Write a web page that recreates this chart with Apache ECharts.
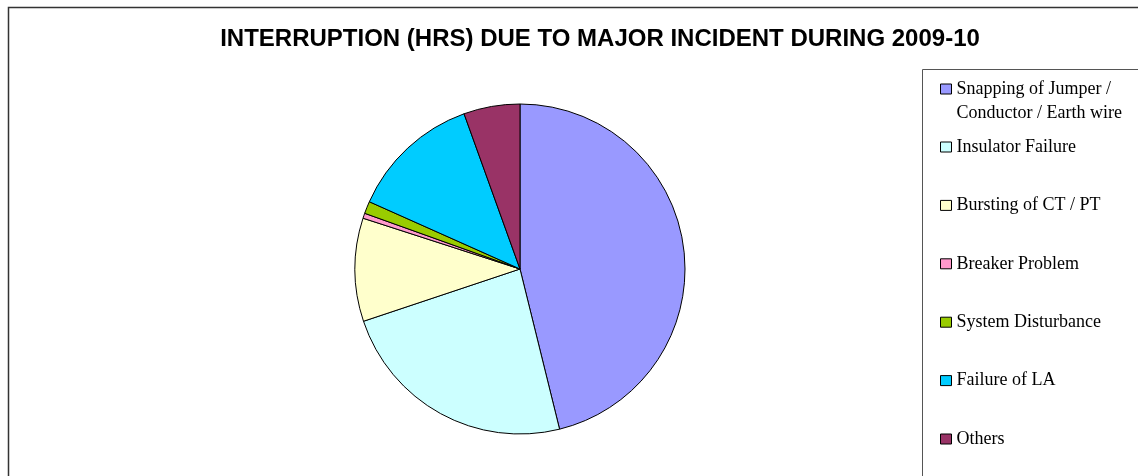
<!DOCTYPE html>
<html>
<head>
<meta charset="utf-8">
<script src="https://cdn.jsdelivr.net/npm/echarts@6/dist/echarts.min.js"></script>
<style>
html,body{margin:0;padding:0;background:#fff;}
#c{width:1138px;height:476px;}
</style>
</head>
<body>
<div id="c"></div>
<script>
var titleText = 'INTERRUPTION (HRS) DUE TO MAJOR INCIDENT DURING 2009-10';
var categories = ['Snapping of Jumper / Conductor / Earth wire', 'Insulator Failure', 'Bursting of CT / PT', 'Breaker Problem', 'System Disturbance', 'Failure of LA', 'Others'];
var firstLegendLines = ['Snapping of Jumper /', 'Conductor / Earth wire'];
var values = [46.1, 23.7, 10.1, 0.5, 1.2, 12.8, 5.5];
var colors = ['#9999FF', '#CCFFFF', '#FFFFCC', '#FF99CC', '#99CC00', '#00CCFF', '#993366'];

var chart = echarts.init(document.getElementById('c'), null, {renderer: 'canvas'});
var data = categories.map(function (n, i) {
  return {name: n, value: values[i], itemStyle: {color: colors[i]}};
});
var legendCommon = {
  orient: 'vertical',
  left: 940,
  padding: 0,
  icon: 'rect',
  itemWidth: 11,
  itemHeight: 10,
  selectedMode: false,
  itemStyle: {borderColor: '#000', borderWidth: 1},
  textStyle: {fontFamily: '"Liberation Serif", "Times New Roman", serif', fontSize: 18, color: '#000', lineHeight: 24}
};
var option = {
  animation: false,
  backgroundColor: '#fff',
  title: {
    text: titleText,
    left: 600,
    textAlign: 'center',
    top: 27,
    padding: 0,
    textStyle: {fontFamily: '"Liberation Sans", Arial, sans-serif', fontWeight: 'bold', fontSize: 24, color: '#000'}
  },
  graphic: [
    {type: 'polyline', shape: {points: [[8.5, 480], [8.5, 7.5], [1140, 7.5]]}, style: {stroke: '#333', lineWidth: 1.5, fill: null}},
    {type: 'rect', shape: {x: 922.5, y: 69.5, width: 300, height: 500}, style: {stroke: '#555', lineWidth: 1, fill: null}, z: -1}
  ],
  legend: [
    Object.assign({}, legendCommon, {
      top: 53,
      data: [categories[0]],
      formatter: function () { return '\n' + firstLegendLines.join('\n'); }
    }),
    Object.assign({}, legendCommon, {
      top: 137,
      itemGap: 38.4,
      data: categories.slice(1),
      textStyle: Object.assign({}, legendCommon.textStyle, {lineHeight: 20})
    })
  ],
  series: [{
    type: 'pie',
    center: [520, 269],
    radius: 165,
    startAngle: 90,
    clockwise: true,
    label: {show: false},
    labelLine: {show: false},
    emphasis: {disabled: true},
    itemStyle: {borderColor: '#000', borderWidth: 1},
    data: data
  }]
};
chart.setOption(option);
</script>
</body>
</html>
